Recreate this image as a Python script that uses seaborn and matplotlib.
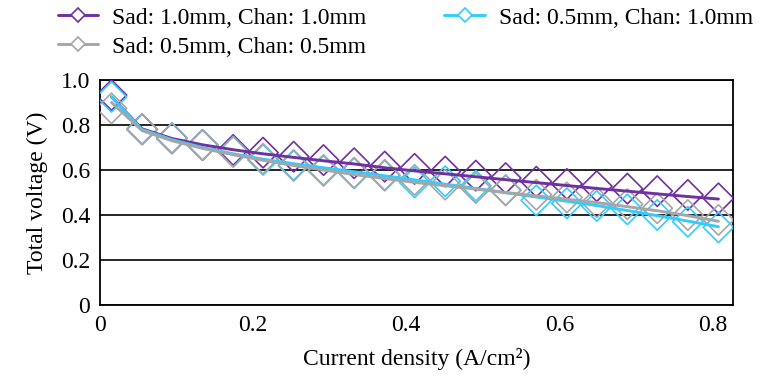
import matplotlib
matplotlib.use("Agg")
import matplotlib.pyplot as plt
import seaborn as sns
from matplotlib.lines import Line2D

# current density (A/cm2), shared by all series
current = [0.015, 0.055, 0.094, 0.134, 0.174, 0.213, 0.253, 0.292, 0.332, 0.372, 0.411,
           0.451, 0.491, 0.530, 0.570, 0.610, 0.649, 0.689, 0.728, 0.768, 0.808]

# measured points (markers)
v_sad10_chan10 = [0.933, 0.781, 0.741, 0.711, 0.689, 0.677, 0.659, 0.644, 0.630, 0.615, 0.605,
                  0.593, 0.575, 0.564, 0.548, 0.538, 0.528, 0.517, 0.506, 0.489, 0.474]
v_sad05_chan10 = [0.925, 0.781, 0.741, 0.711, 0.681, 0.645, 0.622, 0.600, 0.585, 0.575, 0.545,
                  0.550, 0.530, 0.510, 0.465, 0.452, 0.440, 0.425, 0.400, 0.370, 0.345]
v_sad05_chan05 = [0.874, 0.781, 0.741, 0.711, 0.681, 0.650, 0.618, 0.596, 0.588, 0.578, 0.556,
                  0.535, 0.520, 0.510, 0.490, 0.478, 0.456, 0.448, 0.430, 0.400, 0.378]

# smoothed curves (lines)
fit_sad10_chan10 = [0.925, 0.783, 0.740, 0.712, 0.690, 0.672, 0.656, 0.641, 0.627, 0.610, 0.596,
                    0.583, 0.570, 0.557, 0.544, 0.531, 0.518, 0.506, 0.494, 0.482, 0.471]
fit_sad05_chan10 = [0.925, 0.780, 0.735, 0.700, 0.672, 0.648, 0.628, 0.610, 0.592, 0.574, 0.556,
                    0.537, 0.518, 0.499, 0.480, 0.461, 0.442, 0.420, 0.397, 0.373, 0.348]
fit_sad05_chan05 = [0.900, 0.775, 0.730, 0.696, 0.668, 0.643, 0.620, 0.600, 0.580, 0.562, 0.545,
                    0.530, 0.515, 0.500, 0.485, 0.470, 0.455, 0.437, 0.419, 0.397, 0.372]

labels = ["Sad: 1.0mm, Chan: 1.0mm", "Sad: 0.5mm, Chan: 1.0mm", "Sad: 0.5mm, Chan: 0.5mm"]
colors = ["#7030A0", "#33CCFF", "#A6A6A6"]
points = [v_sad10_chan10, v_sad05_chan10, v_sad05_chan05]
fits = [fit_sad10_chan10, fit_sad05_chan10, fit_sad05_chan05]

x_ticks = [0, 0.2, 0.4, 0.6, 0.8]
x_tick_labels = ["0", "0.2", "0.4", "0.6", "0.8"]
y_ticks = [0, 0.2, 0.4, 0.6, 0.8, 1.0]
y_tick_labels = ["0", "0.2", "0.4", "0.6", "0.8", "1.0"]

sns.set_theme(style="white")
plt.rcParams["font.family"] = ["Liberation Serif", "DejaVu Serif"]
plt.rcParams["text.color"] = "black"

fig = plt.figure(figsize=(7.61, 3.78), dpi=100)
ax = fig.add_axes([100 / 761, 1 - 305 / 378, 633 / 761, 225 / 378])

for pts, fit, color in zip(points, fits, colors):
    sns.scatterplot(x=current, y=pts, marker="D", s=240, facecolor="none",
                    edgecolor=color, linewidth=1.2, ax=ax, zorder=3)
    sns.lineplot(x=current, y=fit, color=color, linewidth=2.1, ax=ax, zorder=4)

ax.set_xlim(0, 0.827)
ax.set_ylim(0, 1.0)
ax.set_xticks(x_ticks, x_tick_labels)
ax.set_yticks(y_ticks, y_tick_labels)
ax.tick_params(length=0, labelsize=17, colors="black", pad=7)
ax.yaxis.grid(True, color="black", linewidth=1.2)
ax.set_axisbelow(True)
for sp in ax.spines.values():
    sp.set_color("black")
    sp.set_linewidth(1.3)

ax.set_xlabel("Current density (A/cm²)", fontsize=17, color="black", labelpad=9)
ax.set_ylabel("Total voltage (V)", fontsize=17, color="black", labelpad=9)

handles = [Line2D([], [], color=c, lw=2.1, marker="D", ms=7, mfc="white",
                  mec=c, mew=1.2) for c in colors]
order = [0, 2, 1]
fig.legend([handles[i] for i in order], [labels[i] for i in order],
           loc="upper left", bbox_to_anchor=(58 / 761, 1 - 7 / 378), ncol=2,
           frameon=False, fontsize=17, handlelength=1.7, handletextpad=0.6,
           columnspacing=3.3, labelspacing=0.32, borderpad=0, borderaxespad=0,
           labelcolor="black")

fig.savefig("out.png", dpi=100)
